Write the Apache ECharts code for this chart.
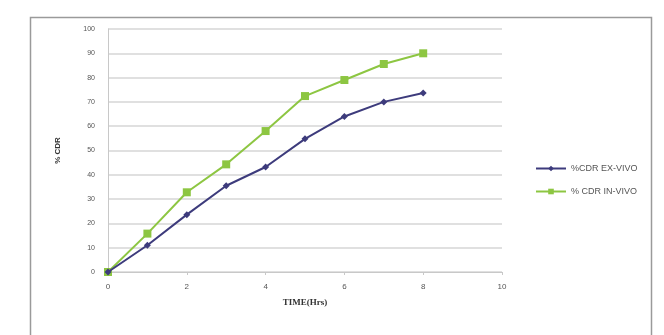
<!DOCTYPE html>
<html>
<head>
<meta charset="utf-8">
<script src="https://cdn.jsdelivr.net/npm/echarts@6/dist/echarts.min.js"></script>
<style>
  html, body { margin: 0; padding: 0; background: #fff; }
  #chart { width: 664px; height: 335px; }
</style>
</head>
<body>
<div id="chart"></div>
<script>
// time in hours
var timeHrs = [0, 1, 2, 3, 4, 5, 6, 7, 8]
var cdrExVivo = [0, 11, 23.6, 35.5, 43.2, 54.8, 64, 70, 73.7]
var cdrInVivo = [0, 15.8, 32.8, 44.3, 58, 72.4, 79, 85.6, 90]
var yTicks = [0, 10, 20, 30, 40, 50, 60, 70, 80, 90, 100]

function pairs(xs, ys) {
  return xs.map(function(x, i) { return [x, ys[i]] })
}

var chart = echarts.init(document.getElementById('chart'))
var option = {
  backgroundColor: '#fff',
  animation: false,
  graphic: [{
    type: 'rect',
    shape: { x: 30.5, y: 17.5, width: 621, height: 400 },
    style: { fill: 'none', stroke: '#9a9a9a', lineWidth: 1.5 },
    silent: true
  }],
  grid: { left: 108, right: 162, top: 29, bottom: 63 },
  legend: {
    orient: 'vertical',
    left: 530,
    top: 159,
    itemWidth: 30,
    itemHeight: 7,
    itemGap: 14,
    textStyle: { fontSize: 9, color: '#555', fontFamily: 'Liberation Sans' },
    data: ['%CDR EX-VIVO', '% CDR IN-VIVO']
  },
  xAxis: {
    type: 'value',
    min: 0,
    max: 10,
    interval: 2,
    name: 'TIME(Hrs)',
    nameLocation: 'middle',
    nameGap: 26,
    nameTextStyle: { fontSize: 9, fontWeight: 'bold', color: '#333', fontFamily: 'Liberation Serif' },
    axisLine: { lineStyle: { color: '#c8c8c8' } },
    axisTick: { show: true, length: 3, lineStyle: { color: '#c8c8c8' } },
    axisLabel: { fontSize: 8, color: '#555', margin: 11, fontFamily: 'Liberation Sans' },
    splitLine: { show: false }
  },
  yAxis: {
    type: 'value',
    min: yTicks[0],
    max: yTicks[yTicks.length - 1],
    interval: 10,
    name: '% CDR',
    nameLocation: 'middle',
    nameGap: 46,
    nameTextStyle: { fontSize: 8, fontWeight: 'bold', color: '#333', fontFamily: 'Liberation Sans' },
    axisLine: { show: true, lineStyle: { color: '#c8c8c8' } },
    axisTick: { show: false },
    axisLabel: { fontSize: 7, color: '#555', margin: 13, fontFamily: 'Liberation Sans' },
    splitLine: { lineStyle: { color: '#d6d6d6', width: 1.5 } }
  },
  series: [
    {
      name: '%CDR EX-VIVO',
      type: 'line',
      data: pairs(timeHrs, cdrExVivo),
      symbol: 'diamond',
      symbolSize: 7,
      lineStyle: { color: '#3d3b7c', width: 2 },
      itemStyle: { color: '#3d3b7c' },
      z: 3
    },
    {
      name: '% CDR IN-VIVO',
      type: 'line',
      data: pairs(timeHrs, cdrInVivo),
      symbol: 'rect',
      symbolSize: 8,
      lineStyle: { color: '#8dc642', width: 2 },
      itemStyle: { color: '#8dc642' },
      z: 2
    }
  ]
}
chart.setOption(option)
</script>
</body>
</html>
